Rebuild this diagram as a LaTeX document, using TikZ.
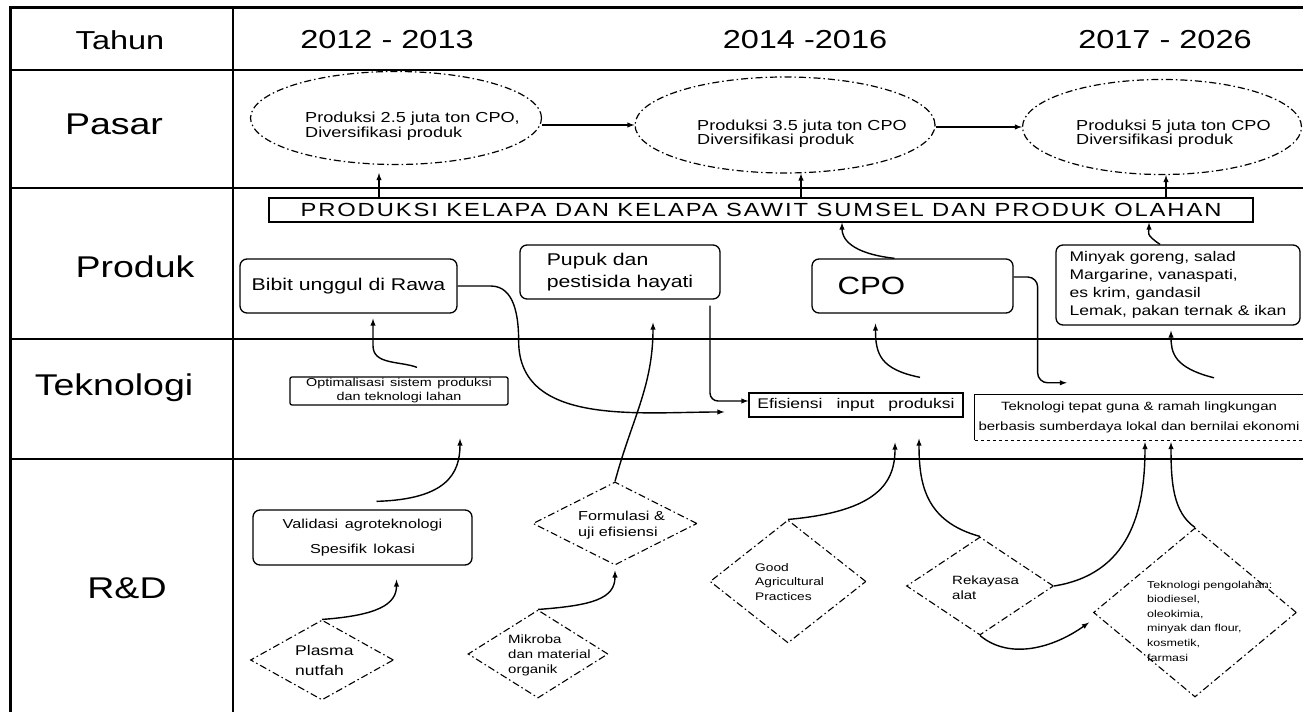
\documentclass[tikz,border=0pt]{standalone}
\usepackage{fontspec}
\setmainfont{Liberation Sans}[FakeStretch=1.25]
\usepackage{tikz}
\usetikzlibrary{shapes.geometric}
\tikzset{
  grid/.style={line width=1.8pt},
  rowlabel/.style={font=\fontsize{30}{34}\selectfont},
  yearlabel/.style={font=\fontsize{26}{30}\selectfont},
  dotdash/.style={dash pattern=on 7pt off 3pt on 1.5pt off 3pt},
  oval/.style={ellipse, draw, dotdash, line width=1.2pt, inner sep=0pt},
  rhomb/.style={diamond, draw, dotdash, line width=1.1pt, inner sep=0pt},
  rbox/.style={draw, rounded corners=7pt, line width=1.3pt, inner sep=0pt},
  sbox/.style={draw, line width=1.3pt, inner sep=0pt},
  txt/.style={anchor=west, inner sep=0pt, align=left},
  ovaltext/.style={txt, font=\fontsize{14.5}{13.5}\selectfont},
  conn/.style={line width=1.4pt, -latex},
}
\begin{document}
\begin{tikzpicture}[x=1pt,y=1pt]
\useasboundingbox (0,0) rectangle (1303,712);
\draw[line width=3pt] (1303,704) -- (10,704) -- (10,0);
\draw[grid] (233,704) -- (233,0);
\foreach \y in {642,524,373,253} \draw[grid] (10,\y) -- (1303,\y);

\node[yearlabel] (tahun) at (120,672) {Tahun};
\node[yearlabel] (y1) at (387,672) {2012 - 2013};
\node[yearlabel] (y2) at (805,672) {2014 -2016};
\node[yearlabel] (y3) at (1165,672) {2017 - 2026};
\node[rowlabel] (pasar) at (114,588) {Pasar};
\node[rowlabel] (produk) at (135,445) {Produk};
\node[rowlabel] (teknologi) at (114,324) {Teknologi};
\node[rowlabel] (rnd) at (127,124) {R\&D};

\node[oval, minimum width=291pt, minimum height=93pt] (e1) at (396,594) {};
\node[oval, minimum width=300pt, minimum height=96pt] (e2) at (785,587) {};
\node[oval, minimum width=279pt, minimum height=95pt] (e3) at (1162,585) {};
\node[ovaltext] (te1) at (305,586) {Produksi 2.5 juta ton CPO,\\Diversifikasi produk};
\node[ovaltext] (te2) at (697,578) {Produksi 3.5 juta ton CPO\\Diversifikasi produk};
\node[ovaltext] (te3) at (1076,578) {Produksi 5 juta ton CPO\\Diversifikasi produk};

\node[sbox, minimum width=984pt, minimum height=24pt,
  font=\fontsize{19}{22}\selectfont\addfontfeature{LetterSpace=10}] (olahan) at (761,502)
  {PRODUKSI KELAPA DAN KELAPA SAWIT SUMSEL DAN PRODUK OLAHAN};

\node[rbox, minimum width=217pt, minimum height=54pt, font=\fontsize{17}{20}\selectfont] (bibit) at (348.5,426) {Bibit unggul di Rawa};
\node[rbox, minimum width=200pt, minimum height=54pt, align=left, font=\fontsize{17}{22}\selectfont] (pupuk) at (620,440) {Pupuk dan\\pestisida hayati};
\node[rbox, minimum width=201pt, minimum height=54pt, text width=150pt, align=left, font=\fontsize{25}{28}\selectfont] (cpo) at (912.5,426) {CPO};
\node[rbox, minimum width=244pt, minimum height=80pt, align=left, font=\fontsize{14}{18}\selectfont] (minyak) at (1178,427)
  {Minyak goreng, salad\\Margarine, vanaspati,\\es krim, gandasil\\Lemak, pakan ternak \& ikan};

\node[sbox, rounded corners=2pt, minimum width=218pt, minimum height=28pt, align=center, font=\fontsize{11.5}{14}\selectfont] (optim) at (399,321)
  {Optimalisasi\enspace sistem\enspace produksi\\dan teknologi lahan};
\node[sbox, minimum width=214pt, minimum height=24pt, font=\fontsize{14}{16}\selectfont] (efis) at (856,307) {Efisiensi\quad input\quad produksi};
\node[inner sep=0pt, minimum width=328pt, minimum height=45pt, align=center, font=\fontsize{12}{20}\selectfont] (tepat) at (1139,294.5)
  {Teknologi tepat guna \& ramah lingkungan\\berbasis sumberdaya lokal dan bernilai ekonomi};
\draw[line width=1.3pt] (tepat.north east) -- (tepat.north west) -- (tepat.south west);
\draw[line width=1.3pt, dashed] (tepat.south west) -- (tepat.south east);

\node[rbox, minimum width=219pt, minimum height=55pt, align=center, font=\fontsize{13}{25}\selectfont] (valid) at (362.5,174.5)
  {Validasi\enspace agroteknologi\\Spesifik\enspace lokasi};
\node[rhomb, minimum width=143pt, minimum height=80pt] (plasma) at (322,52) {};
\node[txt, font=\fontsize{14}{20}\selectfont] (plasmat) at (295,52) {Plasma\\nutfah};
\node[rhomb, minimum width=164pt, minimum height=83pt] (formul) at (615,188.5) {};
\node[txt, font=\fontsize{13}{16}\selectfont] (formult) at (578,187) {Formulasi \&\\uji efisiensi};
\node[rhomb, minimum width=140pt, minimum height=88pt] (mikroba) at (538,58) {};
\node[txt, font=\fontsize{12}{15}\selectfont] (mikrobat) at (508,57) {Mikroba\\dan material\\organik};
\node[rhomb, minimum width=156pt, minimum height=123pt] (gap) at (788,130.5) {};
\node[txt, font=\fontsize{11}{14.5}\selectfont] (gapt) at (755,130) {Good\\Agricultural\\Practices};
\node[rhomb, minimum width=147pt, minimum height=98pt] (rekay) at (980,126) {};
\node[txt, font=\fontsize{12}{15}\selectfont] (rekayt) at (952,124) {Rekayasa\\alat};
\node[rhomb, minimum width=203pt, minimum height=169pt] (olah) at (1195,99.5) {};
\node[txt, font=\fontsize{10}{14.6}\selectfont] (olaht) at (1147,91)
  {Teknologi pengolahan:\\biodiesel,\\oleokimia,\\minyak dan flour,\\kosmetik,\\farmasi};

\draw[conn] (e1.east |- e2.west) -- (e2.west);
\draw[conn] (e2.east |- e3.west) -- (e3.west);
\draw[conn] ([xshift=-17pt]e1.south |- olahan.north) -- ([xshift=-17pt,yshift=-8pt]e1.south);
\draw[conn] ([xshift=16pt]e2.south |- olahan.north) -- ([xshift=16pt]e2.south);
\draw[conn] ([xshift=4pt]e3.south |- olahan.north) -- ([xshift=4pt]e3.south);

\draw[conn] ([xshift=-18pt]cpo.north) .. controls +(-45,5) and +(0,-15) .. ([xshift=81pt]olahan.south);
\draw[conn] ([xshift=-18pt]minyak.north) .. controls +(-15,10) and +(0,-10) .. ([xshift=388pt]olahan.south);

\draw[conn] ([xshift=18pt,yshift=9pt]optim.north) to[out=160,in=-90] ([xshift=24.5pt,yshift=-32pt]bibit.south) -- ([xshift=24.5pt,yshift=-5pt]bibit.south);
\draw[conn] (bibit.east) -- ++(33,0) to[out=0,in=90] ++(28,-55) to[out=-90,in=180] ([xshift=-24pt,yshift=-7pt]efis.west);
\draw[conn, rounded corners=8pt] ([xshift=90pt,yshift=-6pt]pupuk.south) |- ([yshift=4pt]efis.west);
\draw[conn] ([xshift=64pt,yshift=15pt]efis.north) .. controls +(-40,8) and +(0,-30) .. ([xshift=-37pt,yshift=-10pt]cpo.south);
\draw[conn, rounded corners=10pt] ([yshift=9pt]cpo.east) -- ++(24,0) |- ([xshift=92pt,yshift=12pt]tepat.north west);
\draw[conn] ([xshift=75pt,yshift=17pt]tepat.north) .. controls +(-40,10) and +(0,-22) .. ([xshift=-7pt,yshift=-5pt]minyak.south);

\draw[conn] ([xshift=14pt,yshift=8pt]valid.north) .. controls +(70,2) and +(0,-35) .. ([xshift=61pt,yshift=-33pt]optim.south);
\draw[conn] (plasma.north) .. controls +(55,4) and +(0,-25) .. ([xshift=34pt,yshift=-14pt]valid.south);
\draw[conn] (formul.north) to[out=75,in=-90] ([xshift=33pt,yshift=-23pt]pupuk.south);
\draw[conn] (mikroba.north) .. controls +(55,4) and +(0,-28) .. ([yshift=-5pt]formul.south);
\draw[conn] (gap.north) .. controls +(90,8) and +(0,-40) .. ([xshift=39pt,yshift=-25pt]efis.south);
\draw[conn] (rekay.north) .. controls +(-55,15) and +(0,-45) .. ([xshift=63pt,yshift=-21pt]efis.south);
\draw[conn] (rekay.east) .. controls +(75,12) and +(0,-70) .. ([xshift=6pt,yshift=-2pt]tepat.south);
\draw[conn] (rekay.south) .. controls +(30,-25) and +(-35,-25) .. ([xshift=-4pt,yshift=-10pt]olah.west);
\draw[conn] (olah.north) .. controls +(-22,15) and +(0,-40) .. ([xshift=32pt,yshift=-2pt]tepat.south);
\end{tikzpicture}
\end{document}
